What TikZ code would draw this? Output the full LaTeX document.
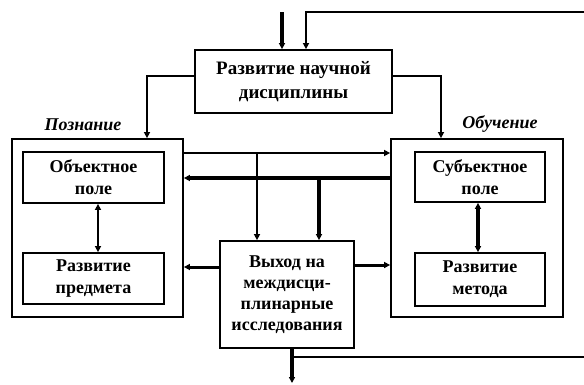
\documentclass[tikz,border=0pt]{standalone}
\usepackage{fontspec}
\setmainfont{Liberation Serif}
\usetikzlibrary{arrows.meta,calc}
\begin{document}
\begin{tikzpicture}[x=1pt,y=-1pt,
  box/.style={draw,line width=1.8pt,rectangle,inner sep=0pt,align=center,
    font=\fontsize{18}{22}\selectfont\bfseries},
  thinln/.style={line width=1.7pt},
  thickln/.style={line width=3.6pt},
  arr/.style={-{Triangle[length=6pt,width=6pt]}},
  darr/.style={{Triangle[length=6pt,width=6pt]}-{Triangle[length=6pt,width=6pt]}},
  lbl/.style={font=\fontsize{18}{20}\selectfont\bfseries\itshape}]
\useasboundingbox (0,0) rectangle (584,384);
% nodes
\node[box,minimum width=197pt,minimum height=63pt,font=\fontsize{19}{24}\selectfont\bfseries] (top) at (293.5,81.5) {Развитие научной\\дисциплины};
\node[draw,line width=1.8pt,minimum width=171pt,minimum height=178pt,inner sep=0pt] (lo) at (97.5,228) {};
\node[draw,line width=1.8pt,minimum width=172pt,minimum height=178pt,inner sep=0pt] (ro) at (477,228) {};
\node[box,minimum width=141pt,minimum height=51pt] (obj) at (93.5,177.5) {Объектное\\поле};
\node[box,minimum width=141pt,minimum height=51pt] (rp) at (93.5,278.5) {Развитие\\предмета};
\node[box,minimum width=130pt,minimum height=50pt] (subj) at (480,177) {Субъектное\\поле};
\node[box,minimum width=130pt,minimum height=53pt] (rm) at (480,279.5) {Развитие\\метода};
\node[box,minimum width=134pt,minimum height=107pt,font=\fontsize{18}{21}\selectfont\bfseries] (vy) at (287,294.5) {Выход на\\междисци-\\плинарные\\исследования};
\node[lbl] (lpoz) at (83,125) {Познание};
\node[lbl] (lobu) at (500,124) {Обучение};
% free ends
\coordinate (inA) at (282,12);
\coordinate (fbR) at (584,12);
\coordinate (fbT) at (306,12);
\coordinate (outB) at (292,383);
\coordinate (fbB) at (584,357);
% connectors
\draw[thickln,arr] (inA) -- (inA |- top.north);
\draw[thinln,arr] (fbR) -- (fbT) -- (fbT |- top.north);
\draw[thinln,arr] (top.west |- 0,76) -| (147,0 |- lo.north);
\draw[thinln,arr] (top.east |- 0,76) -| (441,0 |- ro.north);
\draw[thinln,arr] (lo.east |- 0,153) -- (ro.west |- 0,153);
\draw[thinln,arr] (257,153) -- (257,0 |- vy.north);
\draw[thickln,arr] (ro.west |- 0,178) -- (lo.east |- 0,178);
\draw[thickln,arr] (319,178) -- (319,0 |- vy.north);
\draw[line width=3pt,arr] (vy.west |- 0,267) -- (lo.east |- 0,267);
\draw[line width=3pt,arr] (vy.east |- 0,265) -- (ro.west |- 0,265);
\draw[line width=2.5pt,darr] (98,0 |- obj.south) -- (98,0 |- rp.north);
\draw[line width=3.5pt,darr] (478,0 |- subj.south) -- (478,0 |- rm.north);
\draw[thickln,arr] (292,0 |- vy.south) -- (outB);
\draw[thinln] (292,357) -- (fbB);
\end{tikzpicture}
\end{document}
